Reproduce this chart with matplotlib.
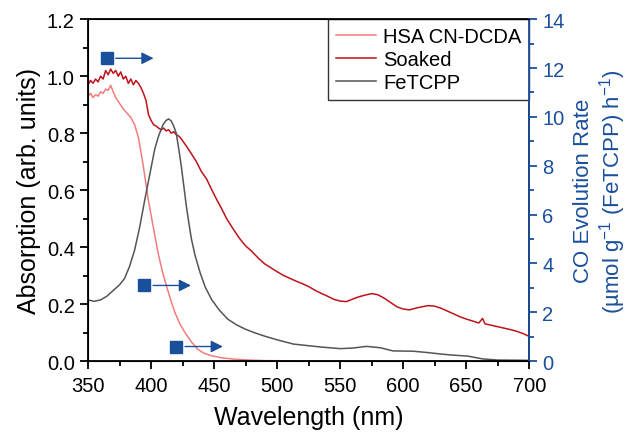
import numpy as np
import matplotlib.pyplot as plt

plt.rcParams['font.family'] = ['Liberation Sans', 'DejaVu Sans']
plt.rcParams['mathtext.fontset'] = 'custom'
plt.rcParams['mathtext.rm'] = 'Liberation Sans'
plt.rcParams['mathtext.it'] = 'Liberation Sans:italic'

# absorption spectra (wavelength in nm, absorbance in arb. units)
hsa_wl = [350, 352, 354, 356, 358, 360, 362, 364, 366, 368, 370, 372, 375, 378, 381, 384,
          387, 390, 393.7, 397.7, 401.6, 405.6, 409, 412.5, 416, 419, 423, 427, 432, 437,
          442, 448, 456, 466, 478, 490, 520, 600, 700]
hsa_abs = [0.93, 0.94, 0.925, 0.935, 0.93, 0.945, 0.94, 0.955, 0.95, 0.968, 0.945, 0.925,
           0.905, 0.885, 0.87, 0.855, 0.83, 0.785, 0.69, 0.57, 0.475, 0.38, 0.315, 0.26,
           0.21, 0.17, 0.13, 0.10, 0.068, 0.042, 0.028, 0.019, 0.012, 0.007, 0.004, 0.002,
           0.001, 0.0, 0.0]

soaked_wl = [350, 352, 354, 356, 358, 360, 362, 364, 366, 368, 370, 372, 374, 376, 378, 380,
             382, 384, 386, 388, 390, 392, 394, 396, 398, 400, 402, 404, 406, 408, 410, 412,
             414, 416, 418, 420, 422, 424, 428, 432, 436, 440, 444, 448, 452, 456, 460, 465,
             470, 475, 480, 485, 490, 495, 500, 505, 510, 515, 520, 525, 530, 535, 540, 545,
             550, 555, 560, 565, 570, 575, 580, 585, 590, 595, 600, 605, 610, 615, 620, 625,
             630, 635, 640, 645, 650, 655, 660, 663, 665, 670, 675, 680, 685, 690, 695, 700]
soaked_abs = [0.97, 0.985, 0.975, 0.99, 0.98, 1.0, 0.99, 1.02, 1.005, 1.025, 1.01, 1.02, 1.0,
              1.015, 0.99, 1.0, 0.975, 0.99, 0.97, 0.985, 0.975, 0.96, 0.94, 0.915, 0.865,
              0.845, 0.83, 0.825, 0.818, 0.812, 0.818, 0.808, 0.812, 0.80, 0.805, 0.795, 0.79,
              0.78, 0.755, 0.728, 0.70, 0.665, 0.64, 0.603, 0.568, 0.535, 0.50, 0.465, 0.432,
              0.405, 0.385, 0.362, 0.342, 0.328, 0.314, 0.301, 0.291, 0.281, 0.272, 0.262,
              0.249, 0.238, 0.228, 0.217, 0.211, 0.209, 0.218, 0.226, 0.232, 0.237, 0.233,
              0.221, 0.206, 0.191, 0.183, 0.180, 0.186, 0.191, 0.195, 0.193, 0.186, 0.176,
              0.166, 0.156, 0.148, 0.141, 0.134, 0.150, 0.131, 0.126, 0.121, 0.116, 0.111,
              0.105, 0.097, 0.087]

fetcpp_wl = [350, 355, 360, 365, 370, 375, 379, 383, 387, 391, 395, 399, 403, 406, 409.5,
             412, 414, 416, 418, 420, 422, 424, 426, 428, 430, 432, 435, 439, 443, 448, 454,
             461, 468, 475, 482, 490, 500, 513, 534, 550, 560, 571, 582, 592, 608, 620, 630,
             640, 651, 663, 675, 700]
fetcpp_abs = [0.215, 0.21, 0.215, 0.228, 0.248, 0.268, 0.29, 0.333, 0.39, 0.47, 0.565, 0.655,
              0.745, 0.79, 0.83, 0.845, 0.85, 0.843, 0.825, 0.80, 0.745, 0.685, 0.615, 0.545,
              0.485, 0.43, 0.37, 0.31, 0.26, 0.217, 0.18, 0.147, 0.127, 0.112, 0.10, 0.088,
              0.075, 0.06, 0.05, 0.044, 0.046, 0.052, 0.047, 0.036, 0.035, 0.03, 0.025, 0.021,
              0.018, 0.008, 0.004, 0.003]

# CO evolution rate (umol g-1 (FeTCPP) h-1) vs. cut-off wavelength
co_wl = [365, 394.7, 420]
co_rate = [12.4, 3.1, 0.6]

blue = '#1a4f9c'

fig, ax = plt.subplots(figsize=(6.33, 4.39), dpi=100)
fig.subplots_adjust(left=0.139, right=0.836, bottom=0.175, top=0.954)

ax.plot(hsa_wl, hsa_abs, color='#f47c7c', lw=1.1, label='HSA CN-DCDA')
ax.plot(soaked_wl, soaked_abs, color='#c0121a', lw=1.1, label='Soaked')
ax.plot(fetcpp_wl, fetcpp_abs, color='#555555', lw=1.1, label='FeTCPP')

ax.set_xlim(350, 700)
ax.set_ylim(0, 1.2)
ax.set_xticks(np.arange(350, 701, 50))
ax.set_xticks(np.arange(350, 701, 25), minor=True)
ax.set_yticks(np.arange(0, 1.21, 0.2))
ax.set_yticks(np.arange(0, 1.21, 0.1), minor=True)
ax.yaxis.set_major_formatter(plt.FormatStrFormatter('%.1f'))
ax.tick_params(which='major', length=6, width=1.3, labelsize=14.5, direction='out')
ax.tick_params(which='minor', length=3.5, width=1.3, direction='out')
ax.tick_params(axis='x', pad=5)
for s in ax.spines.values():
    s.set_linewidth(1.3)
ax.set_xlabel('Wavelength (nm)', fontsize=18, labelpad=7)
ax.set_ylabel('Absorption (arb. units)', fontsize=18, labelpad=4)

leg = ax.legend(loc='upper right', fontsize=14.5, frameon=True, fancybox=False,
                borderaxespad=0, handlelength=2.0, handletextpad=0.35,
                labelspacing=0.2, borderpad=0.4, framealpha=1)
leg.get_frame().set_edgecolor('#333333')
leg.get_frame().set_linewidth(1.0)

ax2 = ax.twinx()
ax2.set_ylim(0, 14)
ax2.set_yticks(np.arange(0, 15, 2))
ax2.set_yticks(np.arange(0, 15, 1), minor=True)
ax2.plot(co_wl, co_rate, ls='none', marker='s', ms=9, color=blue)
for w, r in zip(co_wl, co_rate):
    ax2.annotate('', xy=(w + 37, r), xytext=(w + 7, r),
                 arrowprops=dict(arrowstyle='-|>', color=blue, lw=1.0, mutation_scale=18,
                                 shrinkA=0, shrinkB=0))
ax2.spines['right'].set_color(blue)
ax2.spines['right'].set_linewidth(1.3)
ax2.tick_params(axis='y', which='major', colors=blue, length=6, width=1.3, labelsize=14.5)
ax2.tick_params(axis='y', which='minor', colors=blue, length=3.5, width=1.3)
ax2.set_ylabel('CO Evolution Rate\n(µmol g$^{-1}$ (FeTCPP) h$^{-1}$)', color=blue,
               fontsize=16, labelpad=6, linespacing=1.15)

fig.savefig('out.png', dpi=100)
